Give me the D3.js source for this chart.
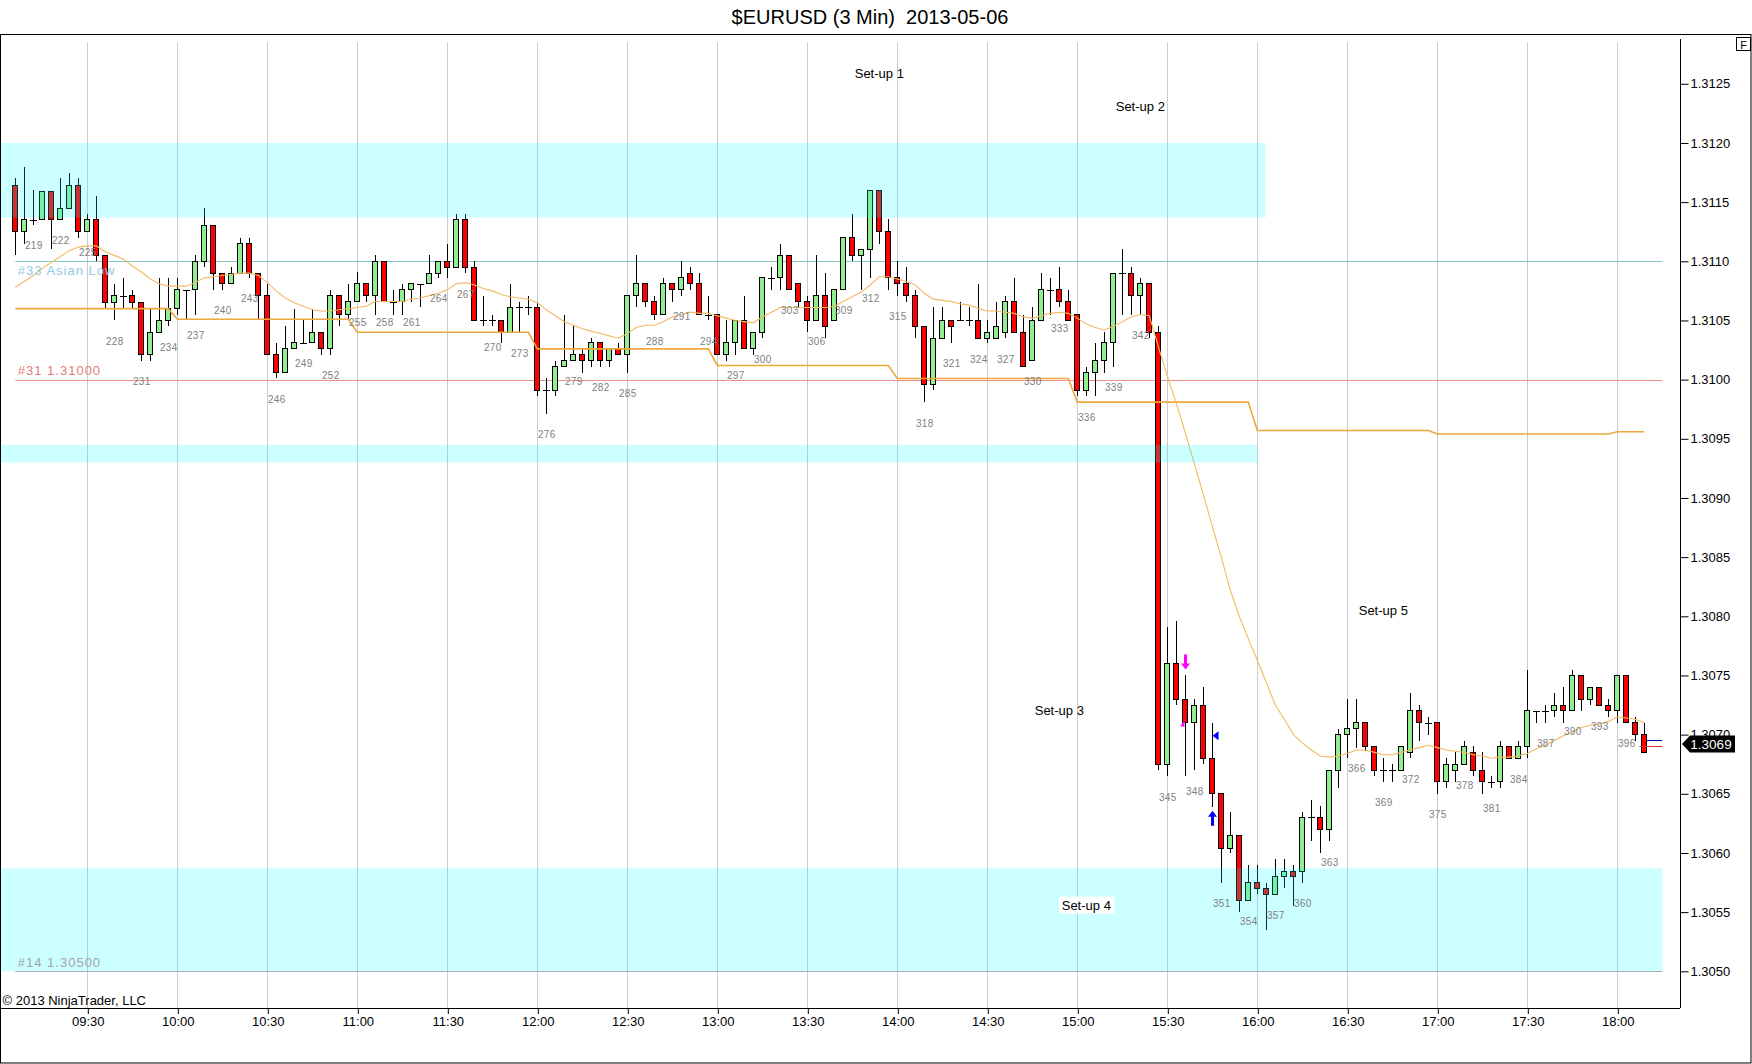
<!DOCTYPE html>
<html><head><meta charset="utf-8">
<script src="https://cdn.jsdelivr.net/npm/d3@7/dist/d3.min.js"></script>
<style>
html,body{margin:0;padding:0;background:#fff;}
svg{display:block;}
text{font-family:"Liberation Sans",Arial,sans-serif;}
</style></head><body>
<svg id="chart" width="1752" height="1064"></svg>
<script>
// ---------------- DATA ----------------
const chartTitle = "$EURUSD (3 Min)  2013-05-06";
const firstBar = 217;          // bar number of the first candle
const anchorBar = 225;         // bar number that closes at 09:30
const barMinutes = 3;

const opens = [
1.31164,1.31125,1.31135,1.31135,1.31159,1.31135,1.31145,1.31164,1.31125,1.31135,
1.31105,1.31065,1.31071,1.31071,1.31065,1.31021,1.31040,1.31050,1.31060,1.31076,
1.31076,1.31100,1.31130,1.31090,1.31081,1.31090,1.31115,1.31090,1.31071,1.31021,
1.31006,1.31026,1.31031,1.31031,1.31040,1.31026,1.31071,1.31055,1.31066,1.31081,
1.31071,1.31100,1.31066,1.31066,1.31076,1.31081,1.31081,1.31090,1.31100,1.31095,
1.31135,1.31095,1.31050,1.31050,1.31050,1.31040,1.31061,1.31061,1.31061,1.30991,
1.30991,1.31011,1.31016,1.31021,1.31016,1.31031,1.31016,1.31026,1.31021,1.31071,
1.31081,1.31066,1.31055,1.31081,1.31076,1.31090,1.31081,1.31055,1.31055,1.31021,
1.31031,1.31050,1.31026,1.31040,1.31086,1.31086,1.31105,1.31081,1.31066,1.31050,
1.31071,1.31050,1.31076,1.31120,1.31105,1.31110,1.31160,1.31125,1.31086,1.31081,
1.31071,1.31045,1.30996,1.31035,1.31050,1.31050,1.31050,1.31050,1.31035,1.31035,
1.31040,1.31066,1.31040,1.31016,1.31050,1.31076,1.31076,1.31066,1.31055,1.30991,
1.31006,1.31016,1.31031,1.31090,1.31090,1.31071,1.31081,1.31040,1.30675,1.30760,
1.30730,1.30710,1.30725,1.30680,1.30650,1.30604,1.30615,1.30560,1.30575,1.30570,
1.30565,1.30580,1.30584,1.30584,1.30630,1.30630,1.30620,1.30670,1.30700,1.30705,
1.30710,1.30690,1.30670,1.30670,1.30670,1.30685,1.30720,1.30710,1.30710,1.30660,
1.30670,1.30675,1.30685,1.30670,1.30660,1.30660,1.30690,1.30680,1.30690,1.30720,
1.30720,1.30720,1.30725,1.30720,1.30750,1.30730,1.30740,1.30725,1.30720,1.30750,1.30710,1.30700];
const highs = [
1.31170,1.31180,1.31160,1.31159,1.31159,1.31170,1.31175,1.31170,1.31140,1.31155,
1.31105,1.31081,1.31086,1.31076,1.31065,1.31060,1.31086,1.31086,1.31086,1.31076,
1.31105,1.31145,1.31130,1.31090,1.31095,1.31120,1.31120,1.31090,1.31081,1.31031,
1.31045,1.31060,1.31050,1.31060,1.31040,1.31076,1.31071,1.31081,1.31091,1.31081,
1.31105,1.31100,1.31076,1.31081,1.31081,1.31081,1.31105,1.31100,1.31115,1.31140,
1.31140,1.31100,1.31071,1.31055,1.31050,1.31081,1.31066,1.31071,1.31066,1.31001,
1.31016,1.31055,1.31045,1.31026,1.31035,1.31031,1.31026,1.31031,1.31071,1.31105,
1.31081,1.31071,1.31086,1.31081,1.31100,1.31095,1.31090,1.31071,1.31055,1.31050,
1.31050,1.31071,1.31040,1.31086,1.31095,1.31115,1.31105,1.31081,1.31071,1.31105,
1.31090,1.31076,1.31120,1.31140,1.31110,1.31160,1.31160,1.31136,1.31100,1.31095,
1.31076,1.31045,1.31061,1.31061,1.31050,1.31066,1.31061,1.31081,1.31050,1.31066,
1.31071,1.31086,1.31055,1.31061,1.31090,1.31086,1.31095,1.31076,1.31055,1.31011,
1.31031,1.31040,1.31090,1.31110,1.31095,1.31086,1.31081,1.31045,1.30791,1.30796,
1.30750,1.30730,1.30740,1.30710,1.30650,1.30635,1.30615,1.30590,1.30590,1.30575,
1.30595,1.30595,1.30590,1.30635,1.30645,1.30640,1.30670,1.30705,1.30730,1.30730,
1.30710,1.30690,1.30680,1.30675,1.30690,1.30735,1.30725,1.30715,1.30710,1.30680,
1.30685,1.30695,1.30690,1.30685,1.30665,1.30695,1.30690,1.30695,1.30755,1.30720,
1.30725,1.30735,1.30740,1.30755,1.30750,1.30740,1.30740,1.30730,1.30750,1.30750,1.30715,1.30710];
const lows = [
1.31105,1.31115,1.31131,1.31135,1.31110,1.31135,1.31145,1.31120,1.31125,1.31100,
1.31060,1.31050,1.31060,1.31060,1.31016,1.31016,1.31040,1.31045,1.31055,1.31050,
1.31055,1.31095,1.31076,1.31076,1.31081,1.31090,1.31086,1.31050,1.31021,1.31001,
1.31006,1.31026,1.31031,1.31031,1.31021,1.31021,1.31045,1.31050,1.31066,1.31066,
1.31055,1.31066,1.31055,1.31055,1.31066,1.31061,1.31081,1.31086,1.31086,1.31095,
1.31090,1.31050,1.31045,1.31045,1.31031,1.31040,1.31040,1.31055,1.30986,1.30971,
1.30986,1.31011,1.31016,1.31006,1.31011,1.31011,1.31011,1.31021,1.31006,1.31061,
1.31061,1.31050,1.31055,1.31066,1.31071,1.31076,1.31055,1.31050,1.31021,1.31016,
1.31021,1.31026,1.31021,1.31035,1.31076,1.31076,1.31076,1.31061,1.31040,1.31050,
1.31035,1.31050,1.31076,1.31100,1.31076,1.31086,1.31115,1.31076,1.31071,1.31066,
1.31035,1.30981,1.30991,1.31035,1.31031,1.31050,1.31045,1.31035,1.31031,1.31035,
1.31035,1.31040,1.31011,1.31016,1.31050,1.31055,1.31061,1.31050,1.30986,1.30986,
1.30986,1.31006,1.31011,1.31055,1.31055,1.31055,1.31035,1.30670,1.30665,1.30725,
1.30665,1.30670,1.30675,1.30639,1.30575,1.30600,1.30550,1.30560,1.30565,1.30535,
1.30565,1.30570,1.30555,1.30575,1.30610,1.30600,1.30610,1.30655,1.30680,1.30689,
1.30686,1.30665,1.30660,1.30660,1.30670,1.30680,1.30695,1.30700,1.30650,1.30655,
1.30660,1.30675,1.30665,1.30650,1.30655,1.30655,1.30680,1.30680,1.30680,1.30710,
1.30710,1.30715,1.30710,1.30720,1.30720,1.30725,1.30725,1.30715,1.30710,1.30710,1.30695,1.30685];
const closes = [
1.31125,1.31135,1.31135,1.31159,1.31135,1.31145,1.31164,1.31125,1.31135,1.31105,
1.31065,1.31071,1.31071,1.31065,1.31021,1.31040,1.31050,1.31060,1.31076,1.31076,
1.31100,1.31130,1.31090,1.31081,1.31090,1.31115,1.31090,1.31071,1.31021,1.31006,
1.31026,1.31031,1.31031,1.31040,1.31026,1.31071,1.31055,1.31066,1.31081,1.31071,
1.31100,1.31066,1.31066,1.31076,1.31081,1.31081,1.31090,1.31100,1.31095,1.31135,
1.31095,1.31050,1.31050,1.31050,1.31040,1.31061,1.31061,1.31061,1.30991,1.30991,
1.31011,1.31016,1.31021,1.31016,1.31031,1.31016,1.31026,1.31021,1.31071,1.31081,
1.31066,1.31055,1.31081,1.31076,1.31086,1.31081,1.31055,1.31055,1.31021,1.31031,
1.31050,1.31026,1.31040,1.31086,1.31086,1.31105,1.31076,1.31066,1.31050,1.31071,
1.31045,1.31076,1.31120,1.31105,1.31110,1.31160,1.31125,1.31086,1.31081,1.31071,
1.31045,1.30996,1.31035,1.31050,1.31045,1.31050,1.31050,1.31035,1.31040,1.31045,
1.31066,1.31040,1.31011,1.31050,1.31076,1.31076,1.31066,1.31050,1.30991,1.31006,
1.31016,1.31031,1.31090,1.31090,1.31071,1.31081,1.31040,1.30675,1.30760,1.30730,
1.30710,1.30725,1.30680,1.30650,1.30604,1.30615,1.30560,1.30575,1.30570,1.30565,
1.30580,1.30584,1.30580,1.30630,1.30630,1.30620,1.30670,1.30700,1.30705,1.30710,
1.30690,1.30670,1.30670,1.30670,1.30690,1.30720,1.30710,1.30710,1.30660,1.30675,
1.30675,1.30690,1.30670,1.30660,1.30660,1.30690,1.30680,1.30690,1.30720,1.30720,
1.30720,1.30725,1.30720,1.30750,1.30730,1.30740,1.30725,1.30720,1.30750,1.30710,1.30700,1.30685];
// thin smoothed average (one value per bar)
const smoothAvg = [
1.31078,1.31083,1.31088,1.31094,1.31099,1.31104,1.31109,1.31112,1.31113,1.31113,
1.31108,1.31105,1.31102,1.31096,1.31091,1.31085,1.31081,1.31079,1.31079,1.31079,
1.31082,1.31086,1.31087,1.31088,1.31089,1.31090,1.31090,1.31088,1.31082,1.31075,
1.31069,1.31065,1.31062,1.31059,1.31058,1.31058,1.31059,1.31060,1.31061,1.31062,
1.31066,1.31066,1.31066,1.31066,1.31068,1.31069,1.31071,1.31073,1.31076,1.31081,
1.31082,1.31080,1.31077,1.31075,1.31072,1.31070,1.31069,1.31068,1.31065,1.31059,
1.31054,1.31049,1.31046,1.31043,1.31041,1.31039,1.31037,1.31035,1.31039,1.31044,
1.31046,1.31046,1.31049,1.31053,1.31055,1.31057,1.31056,1.31056,1.31054,1.31052,
1.31050,1.31049,1.31048,1.31053,1.31057,1.31061,1.31061,1.31061,1.31061,1.31061,
1.31061,1.31062,1.31066,1.31070,1.31074,1.31080,1.31087,1.31087,1.31085,1.31083,
1.31080,1.31073,1.31068,1.31067,1.31066,1.31064,1.31063,1.31060,1.31058,1.31058,
1.31057,1.31056,1.31053,1.31052,1.31054,1.31056,1.31057,1.31056,1.31052,1.31047,
1.31044,1.31042,1.31045,1.31049,1.31053,1.31055,1.31054,1.31028,1.31003,1.30980,
1.30955,1.30929,1.30903,1.30876,1.30850,1.30822,1.30800,1.30781,1.30763,1.30744,
1.30725,1.30713,1.30700,1.30693,1.30687,1.30682,1.30681,1.30682,1.30684,1.30687,
1.30687,1.30685,1.30683,1.30683,1.30685,1.30687,1.30689,1.30691,1.30689,1.30687,
1.30686,1.30685,1.30683,1.30682,1.30680,1.30681,1.30681,1.30682,1.30684,1.30688,
1.30691,1.30695,1.30699,1.30702,1.30706,1.30708,1.30709,1.30711,1.30715,1.30714,1.30713,1.30710];
// hourly stepped level (first bar of each segment and its value)
const stepStartBars = [217, 235, 255, 275, 295, 315, 335, 355, 375, 395];
const stepValues    = [1.31060, 1.31051, 1.31040, 1.31026, 1.31012, 1.31001, 1.30981, 1.30957, 1.30954, 1.30956];

// horizontal levels
const levelPrices = [1.3110, 1.3100, 1.3050];
const levelLabels = ["#33 Asian Low", "#31 1.31000", "#14 1.30500"];
const levelStartBar = 217, levelEndBar = 400;

// shaded zones
const zoneLows  = [1.31137, 1.30930, 1.30500];
const zoneHighs = [1.31200, 1.30945, 1.30587];
const zoneEndBars = [355.9, 355, 400];

// text annotations
const noteTexts  = ["Set-up 1", "Set-up 2", "Set-up 3", "Set-up 4", "Set-up 5"];
const noteBars   = [313, 342, 333, 336, 369];
const notePrices = [1.31259, 1.31231, 1.30720, 1.30556, 1.30805];

// trade markers
const markerBars   = [347, 347, 350, 350];
const markerKinds  = ["down", "tri", "left", "up"];
const markerPrices = [1.30750, 1.30710, 1.30699, 1.30639];

const lastPrice = 1.30692, bidPrice = 1.30690, askPrice = 1.30695;

const yTickValues = [1.3050,1.3055,1.3060,1.3065,1.3070,1.3075,1.3080,1.3085,1.3090,1.3095,1.3100,1.3105,1.3110,1.3115,1.3120,1.3125];
const xTickLabels = ["09:30","10:00","10:30","11:00","11:30","12:00","12:30","13:00","13:30","14:00","14:30","15:00","15:30","16:00","16:30","17:00","17:30","18:00"];

// ---------------- DRAW ----------------
const svg = d3.select("#chart");
const plotRight = 1680, plotTop = 34, plotBottom = 1008;
const day = (h, m) => new Date(2013, 4, 6, h, m);
const anchorTime = day(9, 30);
const barTime = n => new Date(anchorTime.getTime() + (n - anchorBar) * barMinutes * 60000);
const parseHM = s => { const [h, m] = s.split(":").map(Number); return day(h, m); };
const xTicks = xTickLabels.map(parseHM);

const x = d3.scaleTime().domain([xTicks[0], xTicks[xTicks.length - 1]]).range([87.3, 1617.3]);
const y = d3.scaleLinear().domain([1.3050, 1.3125]).range([971.3, 83.8]);
const bx = n => x(barTime(n));

const bars = opens.map((o, i) => ({
  n: firstBar + i, o, h: highs[i], l: lows[i], c: closes[i], ma: smoothAvg[i]
}));
const lastBar = firstBar + bars.length - 1;
const stepSeries = d3.range(firstBar, lastBar + 1).map(n => {
  let v = stepValues[0];
  stepStartBars.forEach((s, k) => { if (n >= s) v = stepValues[k]; });
  return { n, v };
});

svg.append("rect").attr("width", 1752).attr("height", 1064).attr("fill", "#fff");

// vertical grid
svg.append("g").selectAll("line").data(xTicks).join("line")
  .attr("x1", d => Math.round(x(d)) + 0.5).attr("x2", d => Math.round(x(d)) + 0.5)
  .attr("y1", 42).attr("y2", plotBottom)
  .attr("stroke", "#cccccc").attr("stroke-width", 1);

// horizontal level lines
const levelColors = ["#86c6ca", "#e88e8e", "#a8a8a8"];
svg.append("g").selectAll("line").data(levelPrices).join("line")
  .attr("x1", bx(levelStartBar)).attr("x2", bx(levelEndBar))
  .attr("y1", d => Math.round(y(d)) + 0.5).attr("y2", d => Math.round(y(d)) + 0.5)
  .attr("stroke", (d, i) => levelColors[i]).attr("stroke-width", 1);

// candles
const cg = svg.append("g").attr("shape-rendering", "crispEdges");
bars.forEach(b => {
  const cx = Math.round(bx(b.n)) + 0.5;
  cg.append("line").attr("x1", cx).attr("x2", cx)
    .attr("y1", y(b.h)).attr("y2", y(b.l)).attr("stroke", "#000");
  if (b.o === b.c) {
    cg.append("line").attr("x1", cx - 3.5).attr("x2", cx + 3)
      .attr("y1", Math.round(y(b.o)) + 0.5).attr("y2", Math.round(y(b.o)) + 0.5).attr("stroke", "#000");
  } else {
    const top = y(Math.max(b.o, b.c)), bot = y(Math.min(b.o, b.c));
    cg.append("rect").attr("x", cx - 3).attr("width", 5)
      .attr("y", top).attr("height", Math.max(1, bot - top))
      .attr("fill", b.c > b.o ? "#90ee90" : "#ff0000")
      .attr("stroke", "#000").attr("stroke-width", 1);
  }
});

// indicator lines
svg.append("path").datum(stepSeries)
  .attr("d", d3.line().x(d => bx(d.n)).y(d => y(d.v)))
  .attr("fill", "none").attr("stroke", "#eea83c").attr("stroke-width", 1.6);
svg.append("path").datum(bars)
  .attr("d", d3.line().x(d => bx(d.n)).y(d => y(d.ma)))
  .attr("fill", "none").attr("stroke", "#f2ba62").attr("stroke-width", 1.1);

// zones (translucent, on top)
svg.append("g").selectAll("rect").data(zoneLows).join("rect")
  .attr("x", 0).attr("width", (d, i) => bx(zoneEndBars[i]))
  .attr("y", (d, i) => y(zoneHighs[i])).attr("height", (d, i) => y(zoneLows[i]) - y(zoneHighs[i]))
  .attr("fill", "rgba(0,255,255,0.2)");

// level labels
const levelLabelColors = ["#8fcbe8", "#e27a7a", "#a4a4a4"];
const levelLabelDy = [9, -9, -9];
svg.append("g").selectAll("text").data(levelLabels).join("text")
  .attr("x", bx(levelStartBar) + 2.5).attr("y", (d, i) => y(levelPrices[i]) + levelLabelDy[i])
  .attr("dominant-baseline", "central")
  .attr("font-family", "'DejaVu Sans', Verdana, sans-serif").attr("font-size", 13)
  .attr("letter-spacing", 1)
  .attr("fill", (d, i) => levelLabelColors[i]).text(d => d);

// bar numbers (every third bar)
svg.append("g").selectAll("text").data(bars.filter(b => (b.n - 219) % 3 === 0)).join("text")
  .attr("x", d => bx(d.n) + 0.5).attr("y", d => y(d.l) + 21)
  .attr("text-anchor", "middle").attr("dominant-baseline", "central")
  .attr("font-family", "'DejaVu Sans', Verdana, sans-serif").attr("font-size", 10)
  .attr("letter-spacing", 0.3)
  .attr("fill", "#808080").text(d => d.n);

// annotations
noteTexts.forEach((t, i) => {
  const tx = bx(noteBars[i]), ty = y(notePrices[i]);
  if (t === "Set-up 4") {
    svg.append("rect").attr("x", tx - 27).attr("y", ty - 8.5).attr("width", 55).attr("height", 17).attr("fill", "#fff");
  }
  svg.append("text").attr("x", tx).attr("y", ty).attr("text-anchor", "middle")
    .attr("dominant-baseline", "central").attr("font-size", 13).attr("fill", "#000").text(t);
});

// trade markers
markerBars.forEach((n, i) => {
  const cx = Math.round(bx(n)) + 0.5, py = y(markerPrices[i]), k = markerKinds[i];
  if (k === "down") {
    const tip = py - 6;
    svg.append("path").attr("d", `M${cx-1.5},${tip-15} h3 v9 h3 l-4.5,6 l-4.5,-6 h3 z`).attr("fill", "#ff00ff");
  } else if (k === "tri") {
    svg.append("path").attr("d", `M${cx-1},${py-3} L${cx-1},${py+4} L${cx-5},${py+3.5} z`).attr("fill", "#ff00ff");
  } else if (k === "left") {
    svg.append("path").attr("d", `M${cx},${py} L${cx+6},${py-4.5} L${cx+6},${py+4.5} z`).attr("fill", "#0000ff");
  } else if (k === "up") {
    const tip = py + 4;
    svg.append("path").attr("d", `M${cx},${tip} l4.5,6 h-3 v9 h-3 v-9 h-3 z`).attr("fill", "#0000ff");
  }
});

// bid / ask ticks on last bar
svg.append("line").attr("x1", bx(lastBar) - 5).attr("x2", bx(levelEndBar))
  .attr("y1", y(bidPrice)).attr("y2", y(bidPrice)).attr("stroke", "#e03030").attr("stroke-width", 1);
svg.append("line").attr("x1", bx(lastBar) + 2).attr("x2", bx(levelEndBar))
  .attr("y1", y(askPrice)).attr("y2", y(askPrice)).attr("stroke", "#0000a0").attr("stroke-width", 1);

// x axis
const xAxis = d3.axisBottom(x).tickValues(xTicks).tickFormat(d3.timeFormat("%H:%M")).tickSize(6).tickPadding(3);
const xg = svg.append("g").attr("transform", `translate(0.5,${plotBottom})`).call(xAxis);
xg.select(".domain").remove();
xg.selectAll("text").attr("font-size", 13).attr("font-family", "'Liberation Sans', Arial, sans-serif").attr("fill", "#000");
xg.selectAll("line").attr("stroke", "#000");

// y axis
const yAxis = d3.axisRight(y).tickValues(yTickValues).tickFormat(d3.format(".4f")).tickSize(8).tickPadding(2);
const yg = svg.append("g").attr("transform", `translate(${plotRight + 0.5},0)`).call(yAxis);
yg.select(".domain").remove();
yg.selectAll("text").attr("font-size", 13).attr("font-family", "'Liberation Sans', Arial, sans-serif").attr("fill", "#000");
yg.selectAll("line").attr("stroke", "#000");

// frame lines
svg.append("line").attr("x1", 0).attr("x2", plotRight).attr("y1", plotBottom + 0.5).attr("y2", plotBottom + 0.5).attr("stroke", "#000");
svg.append("line").attr("x1", plotRight + 0.5).attr("x2", plotRight + 0.5).attr("y1", 39).attr("y2", plotBottom).attr("stroke", "#000");
svg.append("rect").attr("x", 0.5).attr("y", plotTop + 0.5).attr("width", 1750.5).attr("height", 1063 - plotTop - 0.5)
  .attr("fill", "none").attr("stroke", "#000");

// last price box (drawn over the axis, as in the reference)
const lp = y(lastPrice);
svg.append("path").attr("d", `M${plotRight + 2},${lp} L${plotRight + 10},${lp - 8.5} L1735,${lp - 8.5} L1735,${lp + 8.5} L${plotRight + 10},${lp + 8.5} Z`).attr("fill", "#000");
svg.append("text").attr("x", 1711).attr("y", lp).attr("text-anchor", "middle").attr("dominant-baseline", "central")
  .attr("font-size", 13.5).attr("fill", "#fff").text(d3.format(".4f")(lastPrice));

// "F" box
svg.append("rect").attr("x", 1736.5).attr("y", 37.5).attr("width", 14).attr("height", 13).attr("fill", "#fff").attr("stroke", "#000");
svg.append("text").attr("x", 1743.5).attr("y", 44.5).attr("text-anchor", "middle").attr("dominant-baseline", "central")
  .attr("font-size", 11).text("F");

// title & copyright
svg.append("text").attr("x", 870).attr("y", 23.5).attr("text-anchor", "middle").attr("font-size", 20)
  .style("white-space", "pre").attr("fill", "#000").text(chartTitle);
svg.append("text").attr("x", 2.5).attr("y", 1005).attr("font-size", 13).attr("fill", "#000").text("\u00a9 2013 NinjaTrader, LLC");
</script>
</body></html>
